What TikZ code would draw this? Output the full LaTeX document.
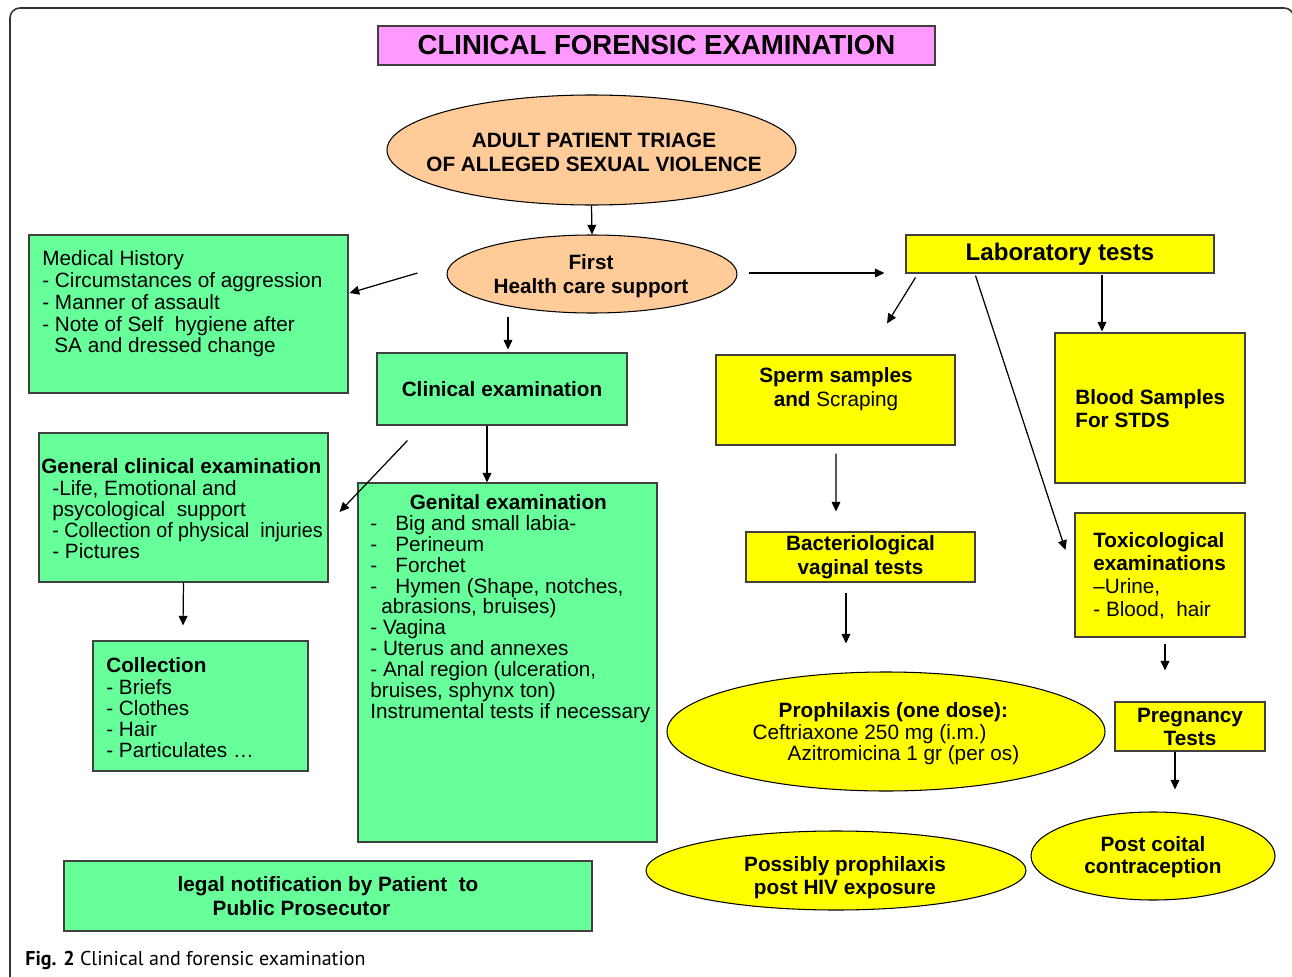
\documentclass[tikz,border=0pt]{standalone}
\usepackage{fontspec}
\usepackage{graphicx}
\setmainfont{Liberation Sans}
\newfontfamily\capfont{PT Sans}
\usetikzlibrary{shapes.geometric,arrows.meta,calc}
\newlength\pxl
\setlength\pxl{0.02cm}
\definecolor{boxgreen}{HTML}{66FF99}
\definecolor{boxyellow}{HTML}{FFFF00}
\definecolor{peach}{HTML}{FFCC99}
\definecolor{titlepink}{HTML}{FF99FF}
\tikzset{
  sz/.style 2 args={minimum width=#1*\pxl, minimum height=#2*\pxl},
  box/.style={draw=black!75, line width=0.6pt, inner sep=0pt},
  greenbox/.style={box, fill=boxgreen},
  yellowbox/.style={box, fill=boxyellow},
  oval/.style={ellipse, draw=black, line width=0.6pt, inner sep=0pt},
  arr/.style={-{Triangle[length=5.5pt,width=5pt]}, line width=0.7pt},
  txt/.style={inner sep=0pt, align=left, font=\fontsize{11.8}{12.1}\selectfont},
  btxt/.style={inner sep=0pt, align=center, font=\fontsize{11.8}{13.6}\selectfont\bfseries},
}
\begin{document}
\begin{tikzpicture}[x=0.02cm, y=-0.02cm]
\useasboundingbox (0,0) rectangle (1292,977);
% Outer frame
\draw[line width=0.9pt, black!80, rounded corners=0.2cm] (10,8) rectangle (1294,1000);

% Title
\node[box, fill=titlepink, sz={557}{39}, font=\fontsize{15.7}{18}\selectfont\bfseries] (title) at (656.5,45.5) {CLINICAL FORENSIC EXAMINATION};

% Triage and first support
\node[oval, fill=peach, sz={409}{110}] (triage) at (591.5,150) {};
\node[btxt] (triagetxt) at (594,152.5) {ADULT PATIENT TRIAGE\\OF ALLEGED SEXUAL VIOLENCE};
\node[oval, fill=peach, sz={290}{78}] (first) at (592,274) {};
\node[btxt] (firsttxt) at (591,276) {First\\Health care support};

% Left branch: history and clinical examination
\node[greenbox, sz={319}{158}] (med) at (188.5,314) {};
\node[txt, anchor=west, font=\fontsize{11.8}{12.4}\selectfont] (medtxt) at (42,304) {Medical History\\- Circumstances of aggression\\- Manner of assault\\- Note of Self~ hygiene after\\\hspace*{12\pxl}SA and dressed change};
\node[greenbox, sz={250}{72}, btxt] (clin) at (502,389) {Clinical examination};
\node[greenbox, sz={289}{149}] (gen) at (183.5,507.5) {};
\node[txt, anchor=west] (gentxt) at (41,509) {\textbf{General clinical examination}\\\hspace*{11\pxl}-Life, Emotional and\\\hspace*{11\pxl}psycological~ support\\\hspace*{11\pxl}\scalebox{0.95}[1]{- Collection of physical~ injuries}\\\hspace*{11\pxl}- Pictures};
\node[greenbox, sz={215}{130}] (coll) at (200.5,706) {};
\node[txt, anchor=west] (colltxt) at (106,708) {\textbf{Collection}\\- Briefs\\- Clothes\\- Hair\\- Particulates …};
\node[greenbox, sz={299}{359}] (genit) at (507.5,662.5) {};
\node[txt, anchor=north west, font=\fontsize{11.8}{11.9}\selectfont] (genittxt) at (370,494) {\makebox[276\pxl]{\textbf{Genital examination}}\\
\makebox[25\pxl][l]{-}Big and small labia-\\
\makebox[25\pxl][l]{-}Perineum\\
\makebox[25\pxl][l]{-}Forchet\\
\makebox[25\pxl][l]{-}Hymen (Shape, notches,\\
\hspace*{11\pxl}abrasions, bruises)\\
- Vagina\\
- Uterus and annexes\\
- Anal region (ulceration,\\
bruises, sphynx ton)\\
Instrumental tests if necessary};
\node[greenbox, sz={528}{70}, btxt, align=left] (legal) at (328,896) {legal notification by Patient~ to\\\hspace*{35\pxl}Public Prosecutor};

% Right branch: laboratory
\node[yellowbox, sz={308}{38}, font=\fontsize{13.7}{16}\selectfont\bfseries] (lab) at (1060,254) {Laboratory tests};
\node[yellowbox, sz={239}{90}] (sperm) at (835.5,400) {};
\node[btxt] (spermtxt) at (836,389) {Sperm samples\\and {\mdseries Scraping}};
\node[yellowbox, sz={190}{150}] (blood) at (1150,408) {};
\node[btxt, anchor=west, align=left, font=\fontsize{11.8}{13.1}\selectfont\bfseries] (bloodtxt) at (1075,409) {Blood Samples\\For STDS};
\node[yellowbox, sz={229}{50}, btxt] (bact) at (860.5,557) {Bacteriological\\vaginal tests};
\node[yellowbox, sz={170}{124}] (toxic) at (1160,575) {};
\node[txt, anchor=west, font=\fontsize{11.8}{13.1}\selectfont] (toxtxt) at (1093,576) {\textbf{Toxicological}\\\textbf{examinations}\\–Urine,\\- Blood,~ hair};
\node[oval, fill=boxyellow, sz={438}{119}] (proph) at (886,731.5) {};
\node[txt, font=\fontsize{11.8}{12.3}\selectfont] (prophtxt) at (886,734) {\hspace*{26\pxl}\textbf{Prophilaxis (one dose):}\\Ceftriaxone 250 mg (i.m.)\\\hspace*{35\pxl}Azitromicina 1 gr (per os)};
\node[yellowbox, sz={150}{49}, btxt, font=\fontsize{11.8}{13.1}\selectfont\bfseries] (preg) at (1190,726.5) {Pregnancy\\Tests};
\node[oval, fill=boxyellow, sz={380}{79}] (hiv) at (836,870.5) {};
\node[btxt, font=\fontsize{11.8}{13.1}\selectfont\bfseries] (hivtxt) at (845,878) {Possibly prophilaxis\\post HIV exposure};
\node[oval, fill=boxyellow, sz={244}{88}] (coital) at (1153,856) {};
\node[btxt, font=\fontsize{11.8}{12.8}\selectfont\bfseries] (coitaltxt) at (1153,857) {Post coital\\contraception};

% Arrows
\draw[arr] (triage.south) -- (first.north);
\draw[arr] ($(first.west)+(-29,-1)$) -- ($(med.east)+(1,-21)$);
\draw[arr] ($(first.south)+(-84,3)$) -- ($(clin.north)+(6,-3)$);
\draw[arr] ($(clin.south)+(-15,0)$) -- ($(genit.north)+(-20.5,0)$);
\draw[arr] ($(clin.south west)+(31,15)$) -- ($(gen.east)+(11,4.5)$);
\draw[arr] (gen.south) -- ($(coll.north)+(-17.5,-15)$);
\draw[arr] ($(first.east)+(11,-1)$) -- ($(lab.west)+(-21,19)$);
\draw[arr] ($(lab.south west)+(10,4)$) -- ($(sperm.north)+(51.5,-31)$);
\draw[arr] ($(lab.south west)+(70,2)$) -- ($(toxic.west)+(-9,-25)$);
\draw[arr] ($(lab.south)+(42,1)$) -- ($(blood.north)+(-48,-1)$);
\draw[arr] ($(sperm.south)+(0.5,8)$) -- ($(bact.north)+(-24.5,-20)$);
\draw[arr] ($(bact.south)+(-14.5,10)$) -- ($(proph.north)+(-40,-28)$);
\draw[arr] ($(toxic.south)+(5,6)$) -- ($(preg.north)+(-25,-31)$);
\draw[arr] ($(preg.south)+(-15,0)$) -- ($(coital.north)+(22,-22)$);

% Caption
\node[anchor=base west, inner sep=0pt, font=\capfont\fontsize{11.4}{13}\selectfont] (caption) at (25,965) {\textbf{Fig. 2} Clinical and forensic examination};
\end{tikzpicture}
\end{document}
